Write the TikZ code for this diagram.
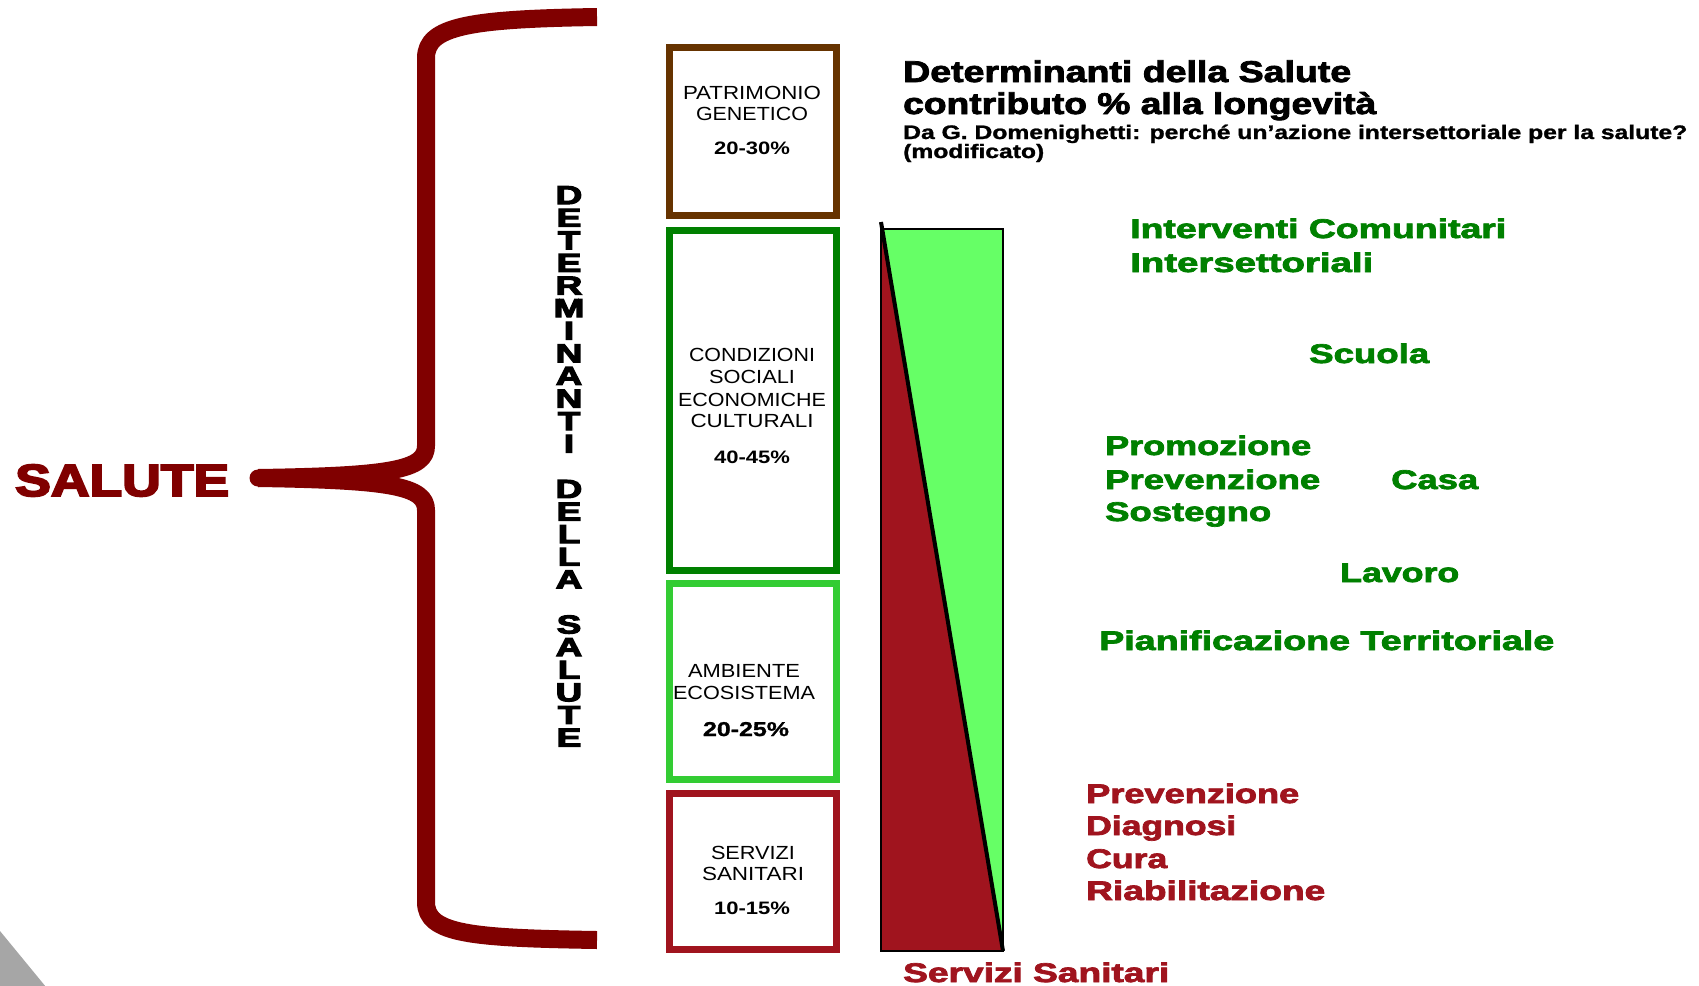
\documentclass[tikz,border=0pt]{standalone}
\usepackage{fontspec}
\setmainfont{Liberation Sans}
\newfontfamily\blackfont{Liberation Sans Bold}[FakeBold=4]
\newfontfamily\heavyfont{Liberation Sans Bold}[FakeBold=2.5]
\newfontfamily\semiheavy{Liberation Sans Bold}[FakeBold=1.2]
\usepackage{graphicx}
\definecolor{cMaroon}{RGB}{128,0,0}
\definecolor{cBrown}{RGB}{102,51,0}
\definecolor{cDkGreen}{RGB}{0,128,0}
\definecolor{cLtGreen}{RGB}{51,204,51}
\definecolor{cRed}{RGB}{160,20,30}
\definecolor{cBarGreen}{RGB}{102,255,102}
\definecolor{cGreenTxt}{RGB}{0,128,0}
\definecolor{cGray}{RGB}{166,166,166}
\newcommand{\fitw}[2]{\resizebox{#1pt}{\height}{#2}}
\tikzset{
  boxframe/.style={draw, line width=7pt, minimum width=167pt, inner sep=0pt},
  boxtxt/.style={anchor=base, inner sep=0pt, font=\fontsize{19}{21}\selectfont},
  pct/.style={anchor=base, inner sep=0pt, font=\fontsize{18}{21}\selectfont\bfseries},
  ttl/.style={anchor=base west, inner sep=0pt, font=\fontsize{30}{31}\selectfont\heavyfont},
  subttl/.style={anchor=base west, inner sep=0pt, font=\fontsize{19.5}{21}\selectfont\semiheavy},
  gtxt/.style={anchor=base west, inner sep=0pt, text=cGreenTxt, font=\fontsize{27}{30}\selectfont\heavyfont},
  rtxt/.style={anchor=base west, inner sep=0pt, text=cRed, font=\fontsize{27}{30}\selectfont\heavyfont},
  bracepath/.style={draw=cMaroon, line width=18pt, line join=round},
}
\begin{document}
\begin{tikzpicture}[x=1pt,y=-1pt]
\useasboundingbox (0,0) rectangle (1699,985);
\fill[white] (0,0) rectangle (1699,985);

% gray corner
\fill[cGray] (0,931) -- (46,987) -- (0,987) -- cycle;

% SALUTE and brace
\node[anchor=base west, inner sep=0pt, text=cMaroon, font=\fontsize{45}{50}\selectfont\blackfont] (salute) at (15,496) {\fitw{214}{SALUTE}};
\coordinate (tip) at (258,478);
\coordinate (armTop) at (597,17);
\coordinate (armBot) at (597,940);
\draw[bracepath] (armTop) .. controls (470,19) and (426,26) .. (426,58) -- (426,446) .. controls (426,470) and (390,476) .. (tip);
\draw[bracepath] (tip) .. controls (390,480) and (426,486) .. (426,510) -- (426,902) .. controls (426,934) and (470,938) .. (armBot);
\fill[cMaroon] (tip) circle (8.5);

% vertical text
\node[anchor=north, inner sep=0pt] (vt) at (569,186) {\resizebox{31pt}{\height}{\parbox{22pt}{\centering\fontsize{26}{22.6}\selectfont\blackfont
D\\E\\T\\E\\R\\M\\I\\N\\A\\N\\T\\I\\\mbox{}\\D\\E\\L\\L\\A\\\mbox{}\\S\\A\\L\\U\\T\\E}}};

% boxes
\node[boxframe, draw=cBrown, minimum height=168pt] (bP) at (752.5,131) {};
\node[boxframe, draw=cDkGreen, minimum height=340pt] (bC) at (752.5,400.5) {};
\node[boxframe, draw=cLtGreen, minimum height=196pt] (bA) at (752.5,681.5) {};
\node[boxframe, draw=cRed, minimum height=156pt] (bS) at (752.5,871.5) {};

\node[boxtxt] (p1) at (752,99) {\fitw{138}{PATRIMONIO}};
\node[boxtxt] (p2) at (752,120.5) {\fitw{112}{GENETICO}};
\node[pct] (p3) at (752,154.5) {\fitw{76}{20-30\%}};

\node[boxtxt] (c1) at (752,361) {\fitw{126}{CONDIZIONI}};
\node[boxtxt] (c2) at (752,383.5) {\fitw{86}{SOCIALI}};
\node[boxtxt] (c3) at (752,406.5) {\fitw{148}{ECONOMICHE}};
\node[boxtxt] (c4) at (752,427.5) {\fitw{123}{CULTURALI}};
\node[pct] (c5) at (752,463) {\fitw{76}{40-45\%}};

\node[boxtxt] (a1) at (744,677) {\fitw{112}{AMBIENTE}};
\node[boxtxt] (a2) at (744,699) {\fitw{142}{ECOSISTEMA}};
\node[pct, font=\fontsize{20}{22}\selectfont\semiheavy] (a3) at (746,736) {\fitw{86}{20-25\%}};

\node[boxtxt] (s1) at (753,859.5) {\fitw{84}{SERVIZI}};
\node[boxtxt] (s2) at (753,880.5) {\fitw{102}{SANITARI}};
\node[pct] (s3) at (752,914.5) {\fitw{76}{10-15\%}};

% title
\node[ttl] (t1) at (903,82) {\fitw{448}{Determinanti della Salute}};
\node[ttl] (t2) at (903,114) {\fitw{473}{contributo \% alla longevità}};
\node[subttl] (t3) at (903,139) {\fitw{784}{Da G. Domenighetti: perché un’azione intersettoriale per la salute?}};
\node[subttl] (t4) at (903,158) {\fitw{141}{(modificato)}};

% bar
\coordinate (barTL) at (881,229);
\coordinate (barTR) at (1003,229);
\coordinate (barBL) at (881,951);
\coordinate (barBR) at (1003,951);
\fill[cBarGreen] (barTL) rectangle (barBR);
\fill[cRed] (barTL) -- (barBR) -- (barBL) -- cycle;
\draw[line width=2.5pt] (barTL) rectangle (barBR);
\draw[line width=4pt] (881,222) -- (barBR);

% green labels
\node[gtxt] (g1) at (1130,238) {\fitw{376}{Interventi Comunitari}};
\node[gtxt] (g2) at (1130,272) {\fitw{243}{Intersettoriali}};
\node[gtxt] (g3) at (1309,363) {\fitw{120}{Scuola}};
\node[gtxt] (g4) at (1105,455) {\fitw{206}{Promozione}};
\node[gtxt] (g5) at (1105,489) {\fitw{215}{Prevenzione}};
\node[gtxt] (g6) at (1391,489) {\fitw{87}{Casa}};
\node[gtxt] (g7) at (1105,521) {\fitw{166}{Sostegno}};
\node[gtxt] (g8) at (1340,582) {\fitw{119}{Lavoro}};
\node[gtxt] (g9) at (1099,650) {\fitw{455}{Pianificazione Territoriale}};

% red labels
\node[rtxt] (r1) at (1086,803) {\fitw{213}{Prevenzione}};
\node[rtxt] (r2) at (1086,835) {\fitw{150}{Diagnosi}};
\node[rtxt] (r3) at (1086,868) {\fitw{81}{Cura}};
\node[rtxt] (r4) at (1086,900) {\fitw{239}{Riabilitazione}};
\node[rtxt] (r5) at (903,982) {\fitw{266}{Servizi Sanitari}};
\end{tikzpicture}
\end{document}
